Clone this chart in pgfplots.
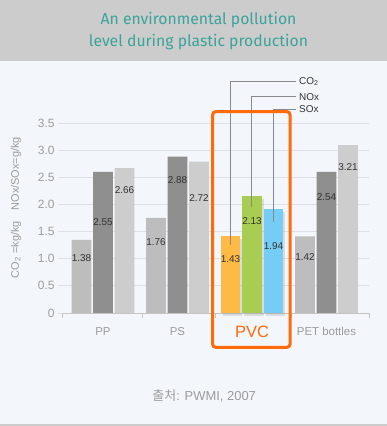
\documentclass[border=0pt]{standalone}
\usepackage{pgfplots}
\pgfplotsset{compat=1.18}
\usepackage{fontspec}
\setmainfont{Liberation Sans}
\newfontfamily\titlefont{Fira Sans}
\newfontfamily\krfont{Noto Sans CJK KR}
\usetikzlibrary{shadows}
\definecolor{bgc}{HTML}{F3F6FA}
\definecolor{hdr}{HTML}{CCCCCC}
\definecolor{ttl}{HTML}{3AA39A}
\definecolor{gridc}{HTML}{DCDFE3}
\definecolor{axc}{HTML}{C4C4C4}
\definecolor{tickc}{HTML}{9C9C9C}
\definecolor{co2g}{HTML}{BDBDBD}
\definecolor{noxg}{HTML}{8F8F8F}
\definecolor{soxg}{HTML}{CDCDCD}
\definecolor{pvco}{HTML}{FDBA45}
\definecolor{pvcg}{HTML}{A8CD52}
\definecolor{pvcb}{HTML}{75CDF5}
\definecolor{orbox}{HTML}{FF6A0A}
\definecolor{lbl}{HTML}{333333}
\definecolor{lead}{HTML}{8A8A8A}
\begin{document}
\begin{tikzpicture}
\useasboundingbox (0,0) rectangle (387bp,426bp);
\fill[bgc] (0,0) rectangle (387bp,426bp);
\fill[hdr] (0,365bp) rectangle (387bp,426bp);
\node[anchor=base, font=\titlefont\fontsize{15.8}{18}\selectfont, text=ttl] at (198.5bp,401bp) {An environmental pollution};
\node[anchor=base, font=\titlefont\fontsize{15.8}{18}\selectfont, text=ttl] at (198.5bp,379.3bp) {level during plastic production};
\draw[hdr, line width=1.5bp] (0,0.8bp) -- (387bp,0.8bp);
\node[rotate=90, text=tickc, font=\fontsize{11}{13}\selectfont] at (16bp,218.5bp) {CO\textsubscript{2} =kg/kg\quad NOx/SOx=g/kg};
\node[anchor=base, text=tickc, font=\fontsize{13}{15}\selectfont] at (204.2bp,26bp) {{\krfont 출처}: PWMI, 2007};
\begin{axis}[
  at={(62bp,113bp)}, anchor=south west,
  x=74.5bp, y=54.29bp,
  xmin=-0.55, xmax=3.57, ymin=0, ymax=3.5,
  clip=false,
  axis line style={draw=none},
  ymajorgrids, grid style={gridc, line width=0.8bp},
  ytick={0,0.5,1,1.5,2,2.5,3,3.5},
  yticklabels={0,0.5,1.0,1.5,2.0,2.5,3.0,3.5},
  ytick pos=left, ytick align=outside,
  xtick={0,1,2,3},
  xticklabels={PP,PS,{\color{orbox}\fontsize{16.5}{18}\selectfont PVC},PET bottles},
  minor xtick={-0.55,0.53,1.51,2.53,3.57},
  xtick pos=bottom, xtick align=outside,
  major x tick style={draw=none},
  minor x tick style={axc, line width=0.8bp},
  major y tick style={gridc, line width=0.8bp},
  major tick length=4bp, minor tick length=5bp,
  yticklabel style={font=\fontsize{12}{14}\selectfont, text=tickc},
  xticklabel style={font=\fontsize{11.5}{13}\selectfont, text=tickc, anchor=center, yshift=-14.7bp},
]
\draw[axc, line width=0.8bp] (axis cs:-0.55,0) -- (axis cs:3.57,0);
\addplot[ybar, bar width=19.7bp, bar shift=-21.5bp, fill=co2g, draw=none] coordinates {(0,1.345) (1,1.75) (3,1.41)};
\addplot[ybar, bar width=19.7bp, bar shift=0bp, fill=noxg, draw=none] coordinates {(0,2.60) (1,2.88) (3,2.60)};
\addplot[ybar, bar width=19.7bp, bar shift=21.5bp, fill=soxg, draw=none] coordinates {(0,2.67) (1,2.79) (3,3.09)};
\addplot[ybar, bar width=19.7bp, bar shift=-21.5bp, fill=pvco, draw=none, drop shadow={shadow xshift=2bp, shadow yshift=-3bp, opacity=0.22}] coordinates {(2,1.42)};
\addplot[ybar, bar width=19.7bp, bar shift=0bp, fill=pvcg, draw=none, drop shadow={shadow xshift=2bp, shadow yshift=-3bp, opacity=0.22}] coordinates {(2,2.16)};
\addplot[ybar, bar width=19.7bp, bar shift=21.5bp, fill=pvcb, draw=none, drop shadow={shadow xshift=2bp, shadow yshift=-3bp, opacity=0.22}] coordinates {(2,1.92)};
\addplot[draw=none, mark=none, nodes near coords, point meta=explicit symbolic,
  every node near coord/.append style={anchor=center, font=\fontsize{10}{11}\selectfont, text=lbl, inner sep=0pt}]
  coordinates {
  (-0.2886,1.013)[1.38] (0,1.676)[2.55] (0.2886,2.266)[2.66]
  (0.7114,1.313)[1.76] (1,2.45)[2.88] (1.2886,2.124)[2.72]
  (1.7114,0.995)[1.43] (2,1.70)[2.13] (2.2886,1.24)[1.94]
  (2.7114,1.03)[1.42] (3,2.142)[2.54] (3.2886,2.69)[3.21]
  };
\end{axis}
\draw[lead, line width=0.8bp] (230.3bp,181bp) -- (230.3bp,344.5bp) -- (296bp,344.5bp);
\draw[lead, line width=0.8bp] (251.3bp,219.3bp) -- (251.3bp,329.3bp) -- (296bp,329.3bp);
\draw[lead, line width=0.8bp] (273.3bp,203.7bp) -- (273.3bp,316.7bp) -- (296bp,316.7bp);
\node[anchor=west, text=lbl, font=\fontsize{10}{11}\selectfont, inner sep=0pt] at (299bp,344.5bp) {CO\textsubscript{2}};
\node[anchor=west, text=lbl, font=\fontsize{10}{11}\selectfont, inner sep=0pt] at (299bp,329.3bp) {NOx};
\node[anchor=west, text=lbl, font=\fontsize{10}{11}\selectfont, inner sep=0pt] at (299bp,316.7bp) {SOx};
\draw[orbox, line width=3bp, rounded corners=3bp] (212.7bp,314.3bp) rectangle (290bp,78.7bp);
\end{tikzpicture}
\end{document}
